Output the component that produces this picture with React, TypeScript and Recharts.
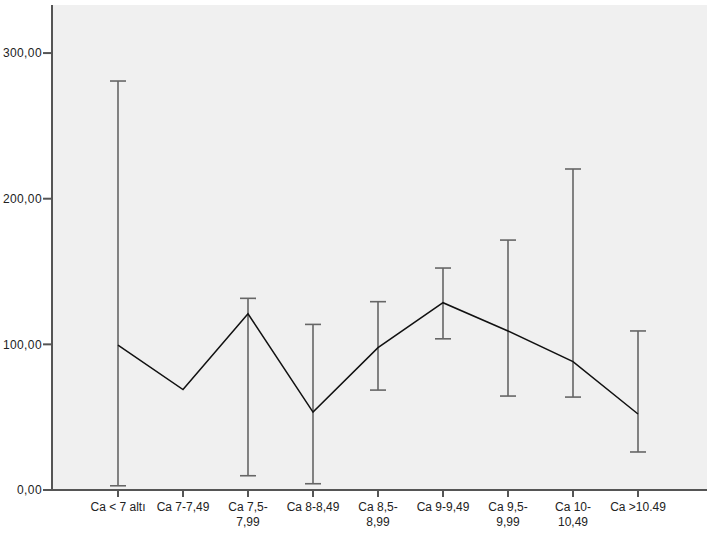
import { ComposedChart, Line, ErrorBar, XAxis, YAxis, CartesianGrid } from "recharts";

const categories = [
  "Ca < 7 altı",
  "Ca 7-7,49",
  "Ca 7,5-7,99",
  "Ca 8-8,49",
  "Ca 8,5-8,99",
  "Ca 9-9,49",
  "Ca 9,5-9,99",
  "Ca 10-10,49",
  "Ca >10.49",
];

// how each category label is broken over lines under the axis
const tickLines = [
  ["Ca < 7 altı"],
  ["Ca 7-7,49"],
  ["Ca 7,5-", "7,99"],
  ["Ca 8-8,49"],
  ["Ca 8,5-", "8,99"],
  ["Ca 9-9,49"],
  ["Ca 9,5-", "9,99"],
  ["Ca 10-", "10,49"],
  ["Ca >10.49"],
];

const means = [99.5, 69, 121, 53.5, 97.7, 128.6, 109.2, 88.1, 52.2];
const upper = [280.8, null, 131.6, 113.7, 129.3, 152.4, 171.6, 220.4, 109.2];
const lower = [2.9, null, 9.8, 4.3, 68.6, 103.8, 64.5, 63.8, 26.1];

const yTicks = [0, 100, 200, 300];

const data = categories.map((name, i) => ({
  name,
  mean: means[i],
  err:
    upper[i] == null || lower[i] == null
      ? undefined
      : [means[i] - (lower[i] as number), (upper[i] as number) - means[i]],
}));

const FONT = "'Liberation Sans Narrow', 'Liberation Sans', Arial, sans-serif";

const XTick = ({ x, y, payload }: any) => {
  const idx = categories.indexOf(payload.value);
  const lines = tickLines[idx] || [payload.value];
  return (
    <text x={x} y={y} textAnchor="middle" fill="#222" fontSize={12} fontFamily={FONT}>
      {lines.map((l, i) => (
        <tspan key={i} x={x} dy={i === 0 ? 12 : 15}>
          {l}
        </tspan>
      ))}
    </text>
  );
};

const fmt = (v: number) => v.toFixed(2).replace(".", ",");

const App = () => {
  return (
    <div style={{ position: "absolute", left: 0, top: 0, width: 713, height: 533, background: "#fff" }}>
      <ComposedChart
        width={713}
        height={533}
        data={data}
        margin={{ top: 5, right: 6, bottom: 0, left: 0 }}
      >
        <CartesianGrid horizontal={false} vertical={false} fill="#f0f0f0" />
        <XAxis
          dataKey="name"
          scale="point"
          padding={{ left: 66, right: 69 }}
          height={43}
          tickSize={7}
          tickMargin={2}
          interval={0}
          axisLine={{ stroke: "#555", strokeWidth: 2 }}
          tickLine={{ stroke: "#555", strokeWidth: 2 }}
          tick={<XTick />}
        />
        <XAxis
          xAxisId="top"
          dataKey="name"
          orientation="top"
          height={0}
          tick={false}
          tickLine={false}
          axisLine={{ stroke: "#555", strokeWidth: 2 }}
        />
        <YAxis
          type="number"
          domain={[0, 333]}
          ticks={yTicks}
          width={52}
          tickSize={9}
          tickMargin={1}
          tickFormatter={fmt}
          axisLine={{ stroke: "#555", strokeWidth: 2 }}
          tickLine={{ stroke: "#555", strokeWidth: 2 }}
          tick={{ fill: "#222", fontSize: 12, fontFamily: "'Liberation Sans', Arial, sans-serif", letterSpacing: 0.4 }}
        />
        <YAxis
          yAxisId="right"
          orientation="right"
          width={0}
          tick={false}
          tickLine={false}
          axisLine={{ stroke: "#555", strokeWidth: 2 }}
        />
        <Line
          dataKey="mean"
          stroke="#111"
          strokeWidth={1.5}
          dot={false}
          activeDot={false}
          isAnimationActive={false}
        >
          <ErrorBar dataKey="err" width={8} stroke="#666" strokeWidth={1.6} direction="y" isAnimationActive={false} />
        </Line>
      </ComposedChart>
    </div>
  );
};

export default App;
